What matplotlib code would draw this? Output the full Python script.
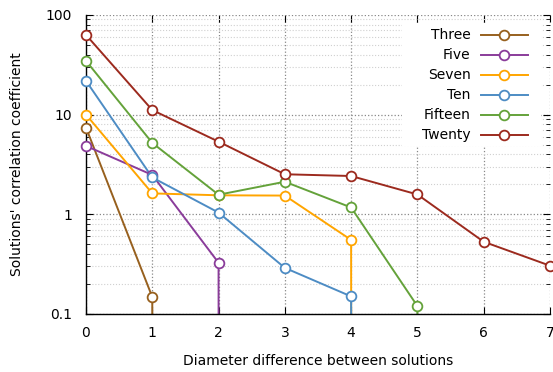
import matplotlib.pyplot as plt
import numpy as np
from matplotlib.patches import Rectangle

# diameter difference between solutions
x = [0, 1, 2, 3, 4, 5, 6, 7]

three = [7.4, 0.148, 0]
five = [4.85, 2.48, 0.326, 0]
seven = [10.0, 1.62, 1.55, 1.54, 0.553, 0]
ten = [21.8, 2.34, 1.04, 0.29, 0.15, 0]
fifteen = [34.6, 5.2, 1.57, 2.12, 1.17, 0.12, 0]
twenty = [63.0, 11.1, 5.35, 2.52, 2.42, 1.58, 0.53, 0.305]

series = [three, five, seven, ten, fifteen, twenty]
labels = ['Three', 'Five', 'Seven', 'Ten', 'Fifteen', 'Twenty']
colors = ['#97601e', '#8a3c9a', '#ffa500', '#4d8cc4', '#64a23a', '#9c2a1e']

fig = plt.figure(figsize=(5.53, 3.72), dpi=100)
ax = fig.add_axes([0.1555, 0.156, 0.839, 0.804])

for vals, lab, col in zip(series, labels, colors):
    xs = np.array(x[:len(vals)])
    ys = np.array(vals)
    ax.plot(xs, ys, color=col, lw=1.4, label=lab)
    # markers only where the value exists on a log axis
    pos = ys > 0
    ax.plot(xs[pos], ys[pos], ls='none', marker='o', ms=7, mfc='white',
            mec=col, mew=1.3, clip_on=False, zorder=4)

ax.set_yscale('log')
ax.set_xlim(0, 7)
ax.set_ylim(0.1, 100)
ax.set_xticks(range(8))
ax.set_yticks([0.1, 1, 10, 100])
ax.set_yticklabels(['0.1', '1', '10', '100'])

ax.grid(True, which='major', axis='both', ls=':', color='#888888', lw=0.9)
ax.grid(True, which='minor', axis='y', ls=':', color='#d0d0d0', lw=0.8)

for s in ['top', 'right']:
    ax.spines[s].set_visible(False)
ax.spines['left'].set_linewidth(1.0)
ax.spines['bottom'].set_linewidth(1.0)

ax.tick_params(which='major', direction='in', length=5, top=True, right=True,
               labelsize=10, color='black')
ax.tick_params(which='minor', direction='in', length=3, top=True, right=True)
ax.tick_params(axis='x', pad=9)
ax.tick_params(axis='y', pad=10)

ax.set_xlabel('Diameter difference between solutions', fontsize=10, labelpad=10)
ax.set_ylabel("Solutions' correlation coefficient", fontsize=10, labelpad=16)

# legend box (opaque, hides the grid) and entries with right aligned labels
ax.add_patch(Rectangle((0.681, 0.562), 0.299, 0.408, transform=ax.transAxes,
                       facecolor='white', edgecolor='none', zorder=3))
for i, (lab, col) in enumerate(zip(labels, colors)):
    yy = 0.934 - i * 0.0669
    ax.text(0.829, yy, lab, transform=ax.transAxes, ha='right', va='center',
            fontsize=10, zorder=5)
    ax.plot([0.851, 0.953], [yy, yy], transform=ax.transAxes, color=col,
            lw=1.4, zorder=5, clip_on=False)
    ax.plot([0.901], [yy], transform=ax.transAxes, marker='o', ms=7,
            mfc='white', mec=col, mew=1.3, zorder=6, clip_on=False)

fig.savefig('out.png', dpi=100)
